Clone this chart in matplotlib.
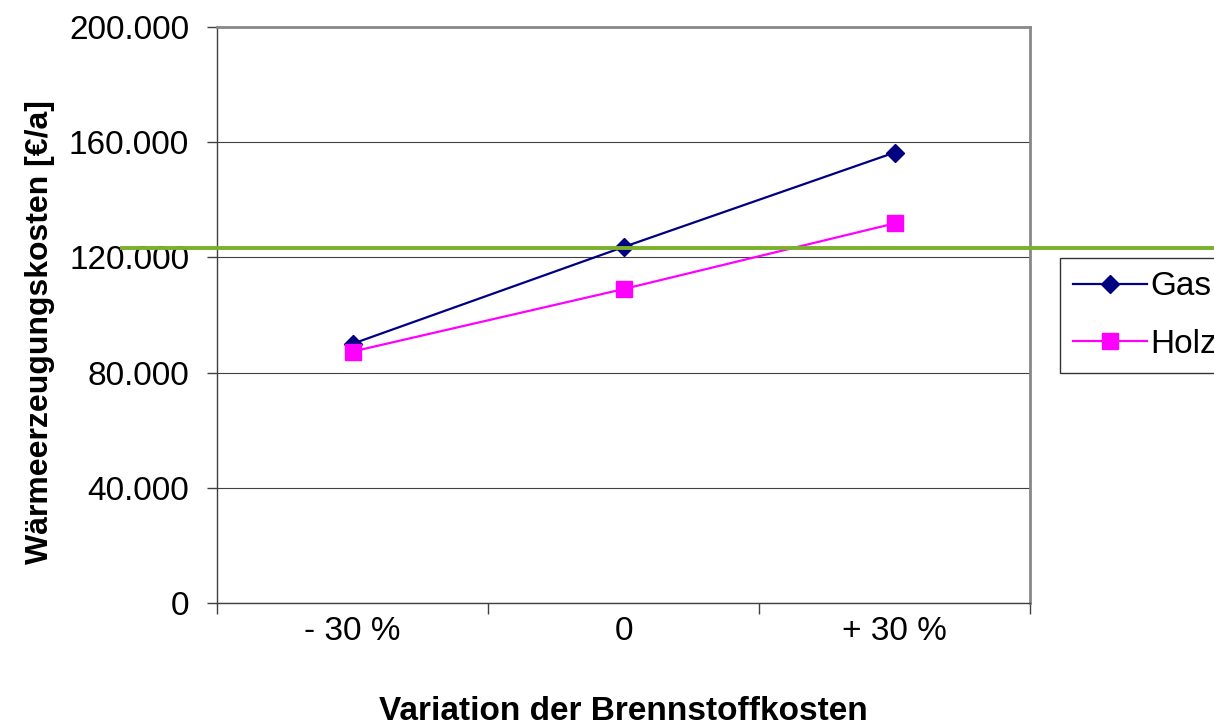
import matplotlib
matplotlib.use("Agg")
import matplotlib.pyplot as plt
from matplotlib.ticker import FuncFormatter, FixedLocator

plt.rcParams['font.family'] = ['Liberation Sans', 'DejaVu Sans']

categories = ["- 30 %", "0", "+ 30 %"]
gas = [90000, 123600, 156400]
holz = [87300, 109000, 131800]
reference_level = 123400
y_ticks = [0, 40000, 80000, 120000, 160000, 200000]

W, H = 1214, 728
fig = plt.figure(figsize=(W / 100, H / 100), dpi=100)
ax = fig.add_axes([217 / W, 1 - 603 / H, (1030 - 217) / W, (603 - 27) / H])

x = list(range(len(categories)))
ax.plot(x, gas, color='#000080', lw=1.6, marker='D', ms=9.5, label='Gas', zorder=4)
ax.plot(x, holz, color='#FF00FF', lw=1.6, marker='s', ms=11, label='Holz', zorder=4)

ax.axhline(reference_level, xmin=(122 - 217) / 813, xmax=(1214 - 217) / 813,
           color='#7AB02A', lw=2.8, clip_on=False, zorder=5)

ax.set_xlim(-0.5, len(categories) - 0.5)
ax.set_ylim(0, 200000)
ax.set_yticks(y_ticks)
ax.yaxis.set_major_formatter(FuncFormatter(lambda v, p: f"{int(v):,}".replace(",", ".")))
ax.set_xticks(x)
ax.set_xticklabels(categories)
ax.xaxis.set_minor_locator(FixedLocator([i - 0.5 for i in range(len(categories) + 1)]))
ax.tick_params(axis='x', which='major', length=0, pad=9, labelsize=24)
ax.tick_params(axis='x', which='minor', length=8, width=1, color='#404040', direction='out')
ax.tick_params(axis='y', length=7, width=1, color='#404040', labelsize=24, pad=13)

ax.grid(axis='y', color='#404040', lw=0.8)
ax.set_axisbelow(True)
for s in ['top', 'right']:
    ax.spines[s].set_color('#888888')
    ax.spines[s].set_linewidth(2)
for s in ['left', 'bottom']:
    ax.spines[s].set_color('#404040')
    ax.spines[s].set_linewidth(1)

ax.set_xlabel("Variation der Brennstoffkosten", fontsize=24, fontweight='bold')
ax.xaxis.label.set_va('center')
ax.xaxis.set_label_coords(0.5, -(711 - 603) / 576)
ax.set_ylabel("Wärmeerzeugungskosten [€/a]", fontsize=23, fontweight='bold')
ax.yaxis.label.set_va('center')
ax.yaxis.set_label_coords((40 - 217) / 813, (603 - 332) / 576)

leg = ax.legend(loc='upper left', bbox_to_anchor=(1060 / W, 1 - 258 / H),
                bbox_transform=fig.transFigure, frameon=True, fancybox=False,
                fontsize=24, handlelength=2.2, borderaxespad=0, labelspacing=0.8,
                handletextpad=0.12, borderpad=0.4)
leg.get_frame().set_edgecolor('black')
leg.get_frame().set_linewidth(1)

fig.savefig("out.png", dpi=100)
